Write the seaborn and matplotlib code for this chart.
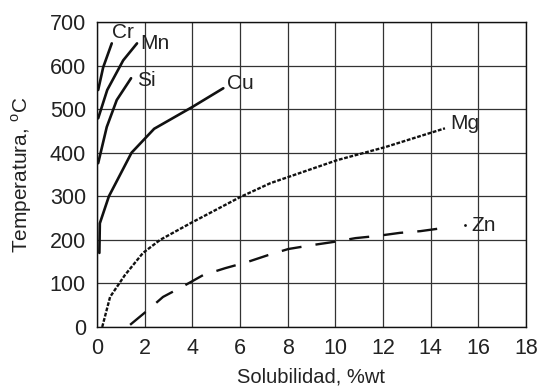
import matplotlib
matplotlib.use("Agg")
import matplotlib.pyplot as plt
import seaborn as sns
import pandas as pd

# Solid-solubility curves of alloying elements in aluminium
cr_x = [0.05, 0.26, 0.62]
cr_t = [544, 596, 651]

mn_x = [0.05, 0.43, 1.1, 1.68]
mn_t = [479, 544, 612, 651]

si_x = [0.05, 0.41, 0.83, 1.43]
si_t = [376, 459, 521, 571]

cu_x = [0.1, 0.12, 0.5, 1.45, 2.4, 4.0, 5.3]
cu_t = [170, 238, 300, 400, 455, 505, 548]

mg_x = [0.22, 0.55, 1.17, 1.93, 2.65, 3.95, 6.0, 7.27, 10.08, 12.1, 14.6]
mg_t = [0, 69, 119, 170, 200, 239, 298, 330, 383, 413, 456]

zn_x = [1.39, 2.14, 2.77, 3.7, 4.45, 5.38, 6.3, 7.18, 8.03, 9.03, 9.9,
        10.85, 11.76, 12.7, 13.57, 14.5]
zn_t = [5, 39, 69, 96, 119, 135, 149, 165, 179, 188, 195, 204, 209, 216,
        220, 227]
zn_end_x = [15.45]
zn_end_t = [234]

labels = ["Cr", "Mn", "Si", "Cu", "Mg", "Zn"]
label_x = [0.63, 1.8, 1.68, 5.45, 14.83, 15.72]
label_t = [677, 651, 566, 560, 468, 234]

x_ticks = [0, 2, 4, 6, 8, 10, 12, 14, 16, 18]
y_ticks = [0, 100, 200, 300, 400, 500, 600, 700]

sns.set_style("white")
plt.rcParams["font.family"] = ["Liberation Sans", "DejaVu Sans"]
plt.rcParams["mathtext.fontset"] = "custom"
plt.rcParams["mathtext.rm"] = "Liberation Sans"

fig = plt.figure(figsize=(5.43, 3.89), dpi=100)
ax = fig.add_axes([0.1786, 0.1594, 0.7901, 0.784])

series = {
    "Cr": (cr_x, cr_t), "Mn": (mn_x, mn_t), "Si": (si_x, si_t),
    "Cu": (cu_x, cu_t), "Mg": (mg_x, mg_t), "Zn": (zn_x, zn_t),
}
styles = {
    "Cr": dict(linestyle="-", linewidth=1.9),
    "Mn": dict(linestyle="-", linewidth=1.9),
    "Si": dict(linestyle="-", linewidth=1.9),
    "Cu": dict(linestyle="-", linewidth=1.9),
    "Mg": dict(linestyle=(0, (1.6, 0.7)), linewidth=1.7),
    "Zn": dict(linestyle=(0, (8.5, 6)), linewidth=1.7),
}
for name, (xs, ts) in series.items():
    df = pd.DataFrame({"x": xs, "t": ts})
    sns.lineplot(data=df, x="x", y="t", ax=ax, color="#111111",
                 estimator=None, sort=False, legend=False, **styles[name])

# small terminal dot of the Zn curve
sns.scatterplot(x=zn_end_x, y=zn_end_t, ax=ax, s=4, color="#111111",
                linewidth=0, legend=False)

for name, lx, lt in zip(labels, label_x, label_t):
    ax.text(lx, lt, name, fontsize=15, ha="left", va="center",
            color="#222222")

ax.set_xlim(0, 18)
ax.set_ylim(0, 700)
ax.set_xticks(x_ticks)
ax.set_yticks(y_ticks)
ax.grid(True, color="#333333", linewidth=0.9)
ax.set_axisbelow(True)
for s in ax.spines.values():
    s.set_color("#111111")
    s.set_linewidth(1.0)
ax.tick_params(axis="both", labelsize=15.5, length=3, width=0.9,
               colors="#111111", labelcolor="#222222", pad=5)
ax.set_xlabel("Solubilidad, %wt", fontsize=14.5, color="#222222", labelpad=6)
ax.set_ylabel("Temperatura, $^{\\mathrm{o}}$C", fontsize=15,
              color="#222222", labelpad=11)

fig.savefig("out.png", dpi=100)
